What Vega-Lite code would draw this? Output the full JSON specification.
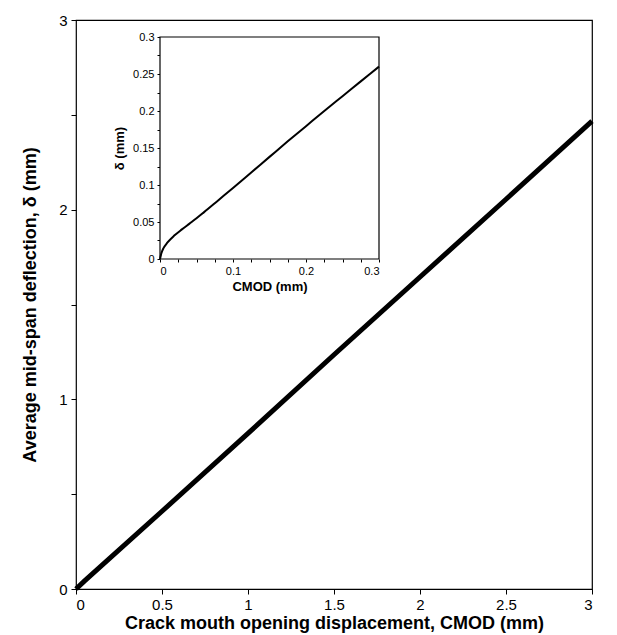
{
  "$schema": "https://vega.github.io/schema/vega-lite/v6.json",
  "width": 516,
  "height": 569,
  "autosize": "none",
  "padding": {"left": 76, "top": 20, "right": 25, "bottom": 46},
  "background": "white",
  "config": {
    "view": {"stroke": "black", "strokeWidth": 1.2},
    "axis": {
      "grid": false,
      "domainColor": "black",
      "tickColor": "black",
      "labelColor": "black",
      "titleColor": "black",
      "labelFont": "Liberation Sans",
      "titleFont": "Liberation Sans"
    }
  },
  "layer": [
    {
      "data": {
        "values": [
          {"cmod": 0, "delta": 0},
          {"cmod": 0.05, "delta": 0.043},
          {"cmod": 0.5, "delta": 0.41},
          {"cmod": 1, "delta": 0.82},
          {"cmod": 1.5, "delta": 1.235},
          {"cmod": 2, "delta": 1.645},
          {"cmod": 2.5, "delta": 2.055},
          {"cmod": 3, "delta": 2.467}
        ]
      },
      "mark": {"type": "line", "color": "black", "strokeWidth": 5},
      "encoding": {
        "x": {
          "field": "cmod",
          "type": "quantitative",
          "scale": {"domain": [0, 3], "nice": false},
          "axis": {
            "values": [0, 0.5, 1, 1.5, 2, 2.5, 3],
            "format": "~g",
            "title": "Crack mouth opening displacement, CMOD (mm)",
            "labelFontSize": 15,
            "titleFontSize": 18,
            "titleFontWeight": "bold",
            "tickSize": 5,
            "labelPadding": 3,
            "titlePadding": 2,
            "domain": false
          }
        },
        "y": {
          "field": "delta",
          "type": "quantitative",
          "scale": {"domain": [0, 3], "nice": false},
          "axis": {
            "values": [0, 0.5, 1, 1.5, 2, 2.5, 3],
            "format": "~g",
            "labelExpr": "datum.value % 1 == 0 ? datum.label : ''",
            "title": "Average mid-span deflection, δ (mm)",
            "labelFontSize": 15,
            "titleFontSize": 18,
            "titleFontWeight": "bold",
            "tickSize": 5,
            "labelPadding": 4,
            "titlePadding": 19,
            "domain": false
          }
        }
      }
    },
    {
      "layer": [
        {
          "data": {"values": [{"x0": 0, "x1": 0.3, "y0": 0, "y1": 0.3}]},
          "mark": {"type": "rect", "fill": "white", "stroke": "black", "strokeWidth": 1.2},
          "encoding": {
            "x": {
              "field": "x0",
              "type": "quantitative",
              "scale": {"domain": [0, 0.3], "nice": false, "range": [84, 303]},
              "axis": {
                "orient": "bottom",
                "offset": -330,
                "values": [0, 0.025, 0.05, 0.075, 0.1, 0.125, 0.15, 0.175, 0.2, 0.225, 0.25, 0.275, 0.3],
                "format": "~g",
                "labelExpr": "abs(datum.value * 10 - round(datum.value * 10)) < 0.001 ? datum.label : ''",
                "title": "CMOD (mm)",
                "labelFontSize": 11,
                "titleFontSize": 13,
                "titleFontWeight": "bold",
                "tickSize": 3,
                "labelPadding": 3,
                "titlePadding": 4,
                "domain": false
              }
            },
            "x2": {"field": "x1"},
            "y": {
              "field": "y0",
              "type": "quantitative",
              "scale": {"domain": [0, 0.3], "nice": false, "range": [239, 17]},
              "axis": {
                "orient": "left",
                "offset": -84,
                "values": [0, 0.025, 0.05, 0.075, 0.1, 0.125, 0.15, 0.175, 0.2, 0.225, 0.25, 0.275, 0.3],
                "format": "~g",
                "labelExpr": "abs(datum.value * 20 - round(datum.value * 20)) < 0.001 ? datum.label : ''",
                "title": "δ (mm)",
                "labelFontSize": 11,
                "titleFontSize": 13,
                "titleFontWeight": "bold",
                "tickSize": 3,
                "labelPadding": 3,
                "titlePadding": 6,
                "domain": false
              }
            },
            "y2": {"field": "y1"}
          }
        },
        {
          "data": {
            "values": [
              {"cmod": 0, "delta": 0},
              {"cmod": 0.002, "delta": 0.008},
              {"cmod": 0.005, "delta": 0.015},
              {"cmod": 0.01, "delta": 0.022},
              {"cmod": 0.02, "delta": 0.032},
              {"cmod": 0.03, "delta": 0.04},
              {"cmod": 0.04, "delta": 0.0475},
              {"cmod": 0.05, "delta": 0.055},
              {"cmod": 0.06, "delta": 0.063},
              {"cmod": 0.08, "delta": 0.0795},
              {"cmod": 0.1, "delta": 0.096},
              {"cmod": 0.125, "delta": 0.117},
              {"cmod": 0.15, "delta": 0.138},
              {"cmod": 0.175, "delta": 0.159},
              {"cmod": 0.2, "delta": 0.1795},
              {"cmod": 0.225, "delta": 0.2},
              {"cmod": 0.25, "delta": 0.22},
              {"cmod": 0.275, "delta": 0.24},
              {"cmod": 0.3, "delta": 0.26}
            ]
          },
          "mark": {"type": "line", "color": "black", "strokeWidth": 2, "interpolate": "monotone"},
          "encoding": {
            "x": {"field": "cmod", "type": "quantitative"},
            "y": {"field": "delta", "type": "quantitative"}
          }
        }
      ]
    }
  ],
  "resolve": {
    "scale": {"x": "independent", "y": "independent"},
    "axis": {"x": "independent", "y": "independent"}
  }
}
